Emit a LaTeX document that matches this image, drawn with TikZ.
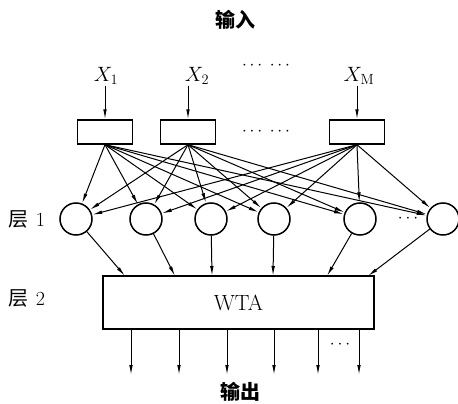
\documentclass[tikz,border=0pt]{standalone}
\usepackage{fontspec}
\newfontfamily\cjk{Noto Sans CJK SC}
\usetikzlibrary{positioning,arrows.meta}
\tikzset{
    inbox/.style={draw,line width=1.4pt,minimum width=55pt,minimum height=24pt,inner sep=0pt},
    neuron/.style={circle,draw,line width=1.5pt,minimum size=32pt,inner sep=0pt},
    wtabox/.style={draw,line width=1.5pt,minimum width=271pt,minimum height=53pt,
        inner sep=0pt,font=\fontsize{22}{24}\selectfont},
    arrow/.style={-{Latex[length=10pt,width=3.6pt]},line width=1pt},
    tag/.style={font=\fontsize{20}{22}\selectfont,inner sep=1pt},
    xin/.style={font=\fontsize{21}{23}\selectfont,inner sep=1pt},
    dots/.style={font=\fontsize{16}{18}\selectfont,inner sep=0pt}
}
\begin{document}
\begin{tikzpicture}[x=1pt,y=-1pt]
    \useasboundingbox (0,0) rectangle (458,404);
    % input layer
    \node[tag] (title) at (235,20) {\cjk\bfseries 输入};
    \node[xin] (x1) at (106,76) {$X_1$};
    \node[xin] (x2) at (197,76) {$X_2$};
    \node[xin] (xm) at (359,76) {$X_{\mathrm{M}}$};
    \node[dots] (topdots) at (266,66) {$\cdots\;\cdots$};
    \node[inbox] (b1) at (105,132) {};
    \node[inbox] (b2) at (188,132) {};
    \node[inbox] (b3) at (357,132) {};
    \node[dots] (boxdots) at (266,132) {$\cdots\;\cdots$};
    \draw[arrow] (x1.south -| b1) -- (b1.north);
    \draw[arrow] (x2.south -| b2) -- (b2.north);
    \draw[arrow] (xm.south -| b3) -- (b3.north);
    % layer 1
    \node[tag] (l1) at (27,219) {\cjk 层\hspace{7pt}\rmfamily 1};
    \foreach \i/\x in {1/76,2/146,3/211,4/274,5/360,6/443}
        \node[neuron] (c\i) at (\x,219) {};
    \node[dots] (cdots) at (408,219) {$\cdots$};
    \foreach \b in {b1,b2,b3}
        \foreach \i in {1,...,6}
            \draw[arrow] (\b.south) -- (c\i);
    % layer 2
    \node[tag] (l2) at (27,298) {\cjk 层\hspace{7pt}\rmfamily 2};
    \node[wtabox] (wta) at (238.5,302.5) {WTA};
    \foreach \i/\x in {1/125,2/175,3/212,4/273,5/327,6/368}
        \coordinate (t\i) at (\x,276);
    \foreach \i in {1,...,6}
        \draw[arrow] (c\i) -- (t\i);
    % outputs
    \foreach \i/\x in {1/131,2/179,3/227,4/274,5/318,6/359}{
        \coordinate (o\i) at (\x,375);
        \draw[arrow] (o\i |- wta.south) -- (o\i);
    }
    \node[dots] (odots) at (340,345) {$\cdots$};
    \node[tag] (out) at (240,392) {\cjk\bfseries 输出};
\end{tikzpicture}
\end{document}
